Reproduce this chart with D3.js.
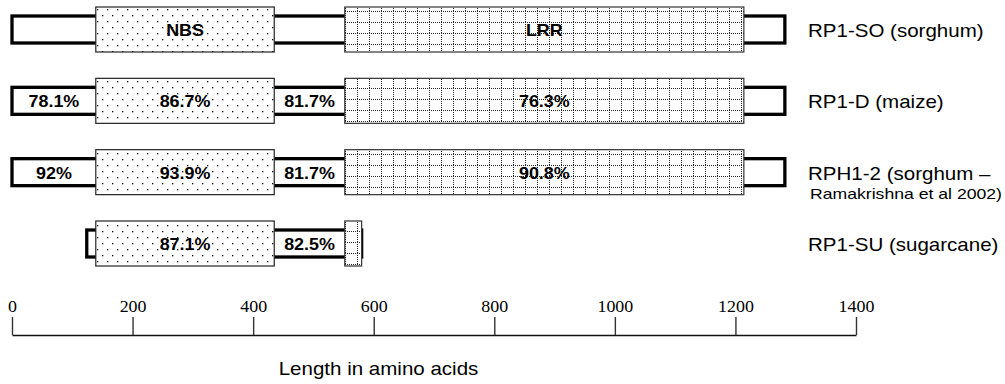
<!DOCTYPE html>
<html>
<head>
<meta charset="utf-8">
<script src="https://cdn.jsdelivr.net/npm/d3@7"></script>
<style>
  html, body { margin: 0; padding: 0; background: #fff; }
  svg { display: block; }
</style>
</head>
<body>
<svg id="chart" width="1005" height="384"></svg>
<script>
// protein names (right side) and second line notes
const rowNames = ["RP1-SO (sorghum)", "RP1-D (maize)", "RPH1-2 (sorghum \u2013", "RP1-SU (sugarcane)"];
const rowNotes = ["", "", "Ramakrishna et al 2002)", ""];

// domain boundaries in amino acids
const proteinStart = [0, 0, 0, 124];
const nbsStart = [139, 139, 139, 139];
const nbsEnd = [435, 435, 435, 435];
const lrrStart = [552, 552, 552, 552];
const lrrEnd = [1214, 1214, 1214, 580];
const proteinEnd = [1282, 1282, 1282, 580];

// labels inside each segment (identity to RP1-SO)
const nTermLabels = ["", "78.1%", "92%", ""];
const nbsLabels = ["NBS", "86.7%", "93.9%", "87.1%"];
const linkerLabels = ["", "81.7%", "81.7%", "82.5%"];
const lrrLabels = ["LRR", "76.3%", "90.8%", ""];

const tickValues = [0, 200, 400, 600, 800, 1000, 1200, 1400];
const axisTitle = "Length in amino acids";

const svg = d3.select("#chart");
const stretch = 1.12; // the original figure is a bit wide

const x = d3.scaleLinear().domain([0, 1400]).range([12, 856]);
const y = d3.scalePoint().domain(d3.range(rowNames.length)).range([29.5, 243.5]);

const boxH = 45, frameH = 27;

// fill patterns
const defs = svg.append("defs");
const dots = defs.append("pattern")
    .attr("id", "dots").attr("patternUnits", "userSpaceOnUse")
    .attr("width", 10).attr("height", 12);
dots.append("rect").attr("width", 10).attr("height", 12).attr("fill", "#fff");
dots.append("rect").attr("x", 2).attr("y", 3).attr("width", 1.3).attr("height", 1.3).attr("fill", "#000");
dots.append("rect").attr("x", 7).attr("y", 9).attr("width", 1.3).attr("height", 1.3).attr("fill", "#000");

const grid = defs.append("pattern")
    .attr("id", "grid").attr("patternUnits", "userSpaceOnUse")
    .attr("x", 345).attr("width", 12).attr("height", 11);
grid.append("rect").attr("width", 12).attr("height", 11).attr("fill", "#fff");
grid.append("line").attr("x1", 0.5).attr("x2", 0.5).attr("y1", 0).attr("y2", 11)
    .attr("stroke", "#222").attr("stroke-dasharray", "1,1");
grid.append("line").attr("x1", 0).attr("x2", 12).attr("y1", 0.5).attr("y2", 0.5)
    .attr("stroke", "#222").attr("stroke-dasharray", "1,1");

const rows = svg.selectAll("g.row")
    .data(rowNames)
    .join("g")
    .attr("class", "row");

// backbone frame
rows.append("rect")
    .attr("x", (d, i) => x(proteinStart[i]))
    .attr("y", (d, i) => y(i) - frameH / 2)
    .attr("width", (d, i) => x(proteinEnd[i]) - x(proteinStart[i]))
    .attr("height", frameH)
    .attr("fill", "#fff")
    .attr("stroke", "#000")
    .attr("stroke-width", 3.3);

// NBS domain
rows.append("rect")
    .attr("x", (d, i) => x(nbsStart[i]))
    .attr("y", (d, i) => y(i) - boxH / 2)
    .attr("width", (d, i) => x(nbsEnd[i]) - x(nbsStart[i]))
    .attr("height", boxH)
    .attr("fill", "url(#dots)")
    .attr("stroke", "#222")
    .attr("stroke-width", 1.2);

// LRR domain
rows.append("rect")
    .attr("x", (d, i) => x(lrrStart[i]))
    .attr("y", (d, i) => y(i) - boxH / 2)
    .attr("width", (d, i) => x(lrrEnd[i]) - x(lrrStart[i]))
    .attr("height", boxH)
    .attr("fill", "url(#grid)")
    .attr("stroke", "#333")
    .attr("stroke-width", 1.2);

// segment labels
function segLabel(labels, from, to) {
  rows.append("text")
      .attr("transform", (d, i) => `translate(${(x(from[i]) + x(to[i])) / 2},${y(i) + 6.5}) scale(${stretch},1)`)
      .attr("text-anchor", "middle")
      .attr("font-family", "Liberation Sans, Arial, sans-serif")
      .attr("font-weight", "bold")
      .attr("font-size", 16)
      .attr("fill", "#000")
      .text((d, i) => labels[i]);
}
segLabel(nTermLabels, proteinStart, nbsStart);
segLabel(nbsLabels, nbsStart, nbsEnd);
segLabel(linkerLabels, nbsEnd, lrrStart);
segLabel(lrrLabels, lrrStart, lrrEnd);

// protein names
rows.append("text")
    .attr("transform", (d, i) => `translate(808,${y(i) + 7.5}) scale(1.14,1)`)
    .attr("font-family", "Liberation Sans, Arial, sans-serif")
    .attr("font-size", 18)
    .attr("fill", "#000")
    .text(d => d);

rows.append("text")
    .attr("transform", (d, i) => `translate(810,${y(i) + 27}) scale(1.26,1)`)
    .attr("font-family", "Liberation Sans, Arial, sans-serif")
    .attr("font-size", 14)
    .attr("fill", "#000")
    .text((d, i) => rowNotes[i]);

// axis
const axis = d3.axisTop(x)
    .tickValues(tickValues)
    .tickFormat(d3.format("d"))
    .tickSize(18)
    .tickSizeOuter(0)
    .tickPadding(5);

const ax = svg.append("g")
    .attr("transform", "translate(0,335)")
    .call(axis);

ax.select(".domain").attr("stroke", "#111").attr("stroke-width", 1.4);
ax.selectAll(".tick line").attr("stroke", "#333").attr("stroke-width", 1.4);
ax.selectAll(".tick text")
    .attr("font-family", "Liberation Serif, Times New Roman, serif")
    .attr("font-size", 16)
    .attr("fill", "#000")
    .attr("transform", `scale(${stretch},1)`);

svg.append("text")
    .attr("transform", "translate(378.5,375) scale(1.14,1)")
    .attr("text-anchor", "middle")
    .attr("font-family", "Liberation Sans, Arial, sans-serif")
    .attr("font-size", 18)
    .attr("fill", "#000")
    .text(axisTitle);
</script>
</body>
</html>
